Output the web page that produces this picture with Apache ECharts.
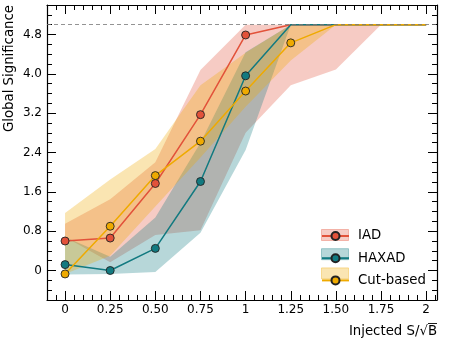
<!DOCTYPE html>
<html>
<head>
<meta charset="utf-8">
<script src="https://cdn.jsdelivr.net/npm/echarts@6/dist/echarts.min.js"></script>
<style>
html, body { margin: 0; padding: 0; background: #fff; }
#main { width: 449px; height: 345px; }
</style>
</head>
<body>
<div id="main"></div>
<script>
// injected S/sqrt(B) points
var xs = [0, 0.25, 0.5, 0.75, 1, 1.25, 1.5, 1.75, 2];

// IAD
var iadMid = [0.6, 0.66, 1.77, 3.17, 4.79, 5, 5, 5, 5];
var iadLow = [0.68, 0.17, 0.72, 0.82, 2.8, 3.77, 4.09, 5, 5];
var iadHigh = [0.95, 1.45, 2.2, 4.08, 5, 5, 5, 5, 5];
// HAXAD
var haxMid = [0.12, 0.0, 0.45, 1.81, 3.96, 5, 5, 5, 5];
var haxLow = [-0.08, -0.07, -0.03, 0.77, 2.45, 5, 5, 5, 5];
var haxHigh = [0.68, 0.28, 1.08, 2.6, 4.44, 5, 5, 5, 5];
// Cut-based
var cutMid = [-0.07, 0.9, 1.93, 2.63, 3.65, 4.63, 5, 5, 5];
var cutLow = [-0.07, 0.3, 1.3, 2.3, 3.33, 4.27, 5, 5, 5];
var cutHigh = [1.17, 1.85, 2.47, 3.77, 4.43, 5, 5, 5, 5];

var capValue = 5;

var xTicks = [0, 0.25, 0.5, 0.75, 1, 1.25, 1.5, 1.75, 2];
var xLabels = ['0', '0.25', '0.50', '0.75', '1', '1.25', '1.50', '1.75', '2'];
var yTicks = [0, 0.8, 1.6, 2.4, 3.2, 4.0, 4.8];
var yLabels = ['0', '0.8', '1.6', '2.4', '3.2', '4.0', '4.8'];

var RED = '#e2523a', TEAL = '#127a80', GOLD = '#efaa00';

// minor tick positions
var xMinor = [], yMinor = [];
for (var k = -1; k <= 41; k++) { if (k % 5 !== 0) xMinor.push(+(k * 0.05).toFixed(2)); }
for (var k = -2; k <= 26; k++) { if (k % 4 !== 0) yMinor.push(+(k * 0.2).toFixed(2)); }

var chart = echarts.init(document.getElementById('main'));

function rgba(hex, a) {
    var n = parseInt(hex.slice(1), 16);
    return 'rgba(' + (n >> 16) + ',' + ((n >> 8) & 255) + ',' + (n & 255) + ',' + a + ')';
}

function band(name, low, high, color) {
    return {
        type: 'custom', name: name + ' band', silent: true, z: 1,
        data: xs.map(function (x, i) { return [x, low[i], high[i]]; }),
        encode: { x: 0, y: [1, 2] },
        renderItem: function (params, api) {
            if (params.dataIndex !== 0) return;
            var top = [], bot = [];
            for (var i = 0; i < xs.length; i++) {
                top.push(api.coord([xs[i], high[i]]));
                bot.unshift(api.coord([xs[i], low[i]]));
            }
            return { type: 'polygon', shape: { points: top.concat(bot) }, style: { fill: rgba(color, 0.3) } };
        }
    };
}

function line(name, vals, color) {
    return {
        type: 'line', name: name, z: 3,
        symbol: 'circle', symbolSize: 8,
        data: xs.map(function (x, i) {
            return { value: [x, vals[i]], symbol: vals[i] >= capValue ? 'none' : 'circle' };
        }),
        lineStyle: { color: color, width: 1.5 },
        itemStyle: { color: color, borderColor: '#222', borderWidth: 0.9 },
        emphasis: { disabled: true }
    };
}

function tickAxis(pos, vals, len, showLine) {
    return {
        type: 'value', position: pos, min: -0.1, max: 2.06,
        axisLine: { show: showLine, onZero: false, lineStyle: { color: '#000', width: 1.2 } },
        axisTick: { show: true, inside: true, length: len, customValues: vals, lineStyle: { color: '#000', width: 1 } },
        axisLabel: { show: false }, splitLine: { show: false }
    };
}
function tickYAxis(pos, vals, len, showLine) {
    return {
        type: 'value', position: pos, min: -0.6, max: 5.4,
        axisLine: { show: showLine, onZero: false, lineStyle: { color: '#000', width: 1.2 } },
        axisTick: { show: true, inside: true, length: len, customValues: vals, lineStyle: { color: '#000', width: 1 } },
        axisLabel: { show: false }, splitLine: { show: false }
    };
}

var bandBand = band('IAD', iadLow, iadHigh, RED);
bandBand.markLine = {
    silent: true, symbol: ['none', 'none'], label: { show: false },
    lineStyle: { color: '#777', width: 0.8, type: [4, 3] },
    data: [{ yAxis: capValue }]
};

var xMain = {
    type: 'value', position: 'bottom', min: -0.1, max: 2.06,
    axisLine: { show: true, onZero: false, lineStyle: { color: '#000', width: 1.2 } },
    axisTick: { show: true, inside: true, length: 9, customValues: xTicks, lineStyle: { color: '#000', width: 1 } },
    axisLabel: {
        customValues: xTicks, margin: 4, color: '#000', fontSize: 12,
        formatter: function (v) { return xLabels[xTicks.indexOf(v)]; }
    },
    splitLine: { show: false }
};
var yMain = {
    type: 'value', position: 'left', min: -0.6, max: 5.4,
    axisLine: { show: true, onZero: false, lineStyle: { color: '#000', width: 1.2 } },
    axisTick: { show: true, inside: true, length: 9, customValues: yTicks, lineStyle: { color: '#000', width: 1 } },
    axisLabel: {
        customValues: yTicks, margin: 5, color: '#000', fontSize: 12,
        formatter: function (v) { return yLabels[yTicks.indexOf(v)]; }
    },
    splitLine: { show: false }
};

var legendTop = 229.5, legendStep = 19.2;

chart.setOption({
    animation: false,
    textStyle: { fontFamily: 'DejaVu Sans' },
    grid: { left: 47, right: 12, top: 5, bottom: 45, containLabel: false, outerBoundsMode: 'none' },
    xAxis: [xMain, tickAxis('bottom', xMinor, 5, false), tickAxis('top', xTicks, 9, true), tickAxis('top', xMinor, 5, false)],
    yAxis: [yMain, tickYAxis('left', yMinor, 5, false), tickYAxis('right', yTicks, 9, true), tickYAxis('right', yMinor, 5, false)],
    legend: {
        orient: 'vertical', left: 321, top: legendTop, padding: 0,
        itemWidth: 27, itemHeight: 10, itemGap: legendStep - 10,
        textStyle: { color: '#000', fontSize: 13.3, lineHeight: 10, padding: [0, 0, 0, 4] },
        data: ['IAD', 'HAXAD', 'Cut-based']
    },
    graphic: [
        { type: 'rect', z: 3, left: 321, top: legendTop - 0.5, shape: { width: 27, height: 11 }, style: { fill: rgba(RED, 0.3), stroke: rgba(RED, 0.35) } },
        { type: 'rect', z: 3, left: 321, top: legendTop + legendStep - 0.5, shape: { width: 27, height: 11 }, style: { fill: rgba(TEAL, 0.3), stroke: rgba(TEAL, 0.35) } },
        { type: 'rect', z: 3, left: 321, top: legendTop + 2 * legendStep - 0.5, shape: { width: 27, height: 11 }, style: { fill: rgba(GOLD, 0.3), stroke: rgba(GOLD, 0.35) } },
        { type: 'text', x: 10, y: 5, rotation: Math.PI / 2,
          style: { text: 'Global Significance', fill: '#000', fontSize: 13.3, fontFamily: 'DejaVu Sans', align: 'right', verticalAlign: 'middle' } },
        { type: 'text', x: 437, y: 331.5, style: { text: 'Injected S/√B', fill: '#000', fontSize: 13.3, fontFamily: 'DejaVu Sans', align: 'right', verticalAlign: 'middle' } },
        { type: 'line', shape: { x1: 428, y1: 323.5, x2: 437, y2: 323.5 }, style: { stroke: '#000', lineWidth: 0.9 } }
    ],
    series: [
        bandBand,
        band('HAXAD', haxLow, haxHigh, TEAL),
        band('Cut-based', cutLow, cutHigh, GOLD),
        line('IAD', iadMid, RED),
        line('HAXAD', haxMid, TEAL),
        line('Cut-based', cutMid, GOLD)
    ]
});
</script>
</body>
</html>
